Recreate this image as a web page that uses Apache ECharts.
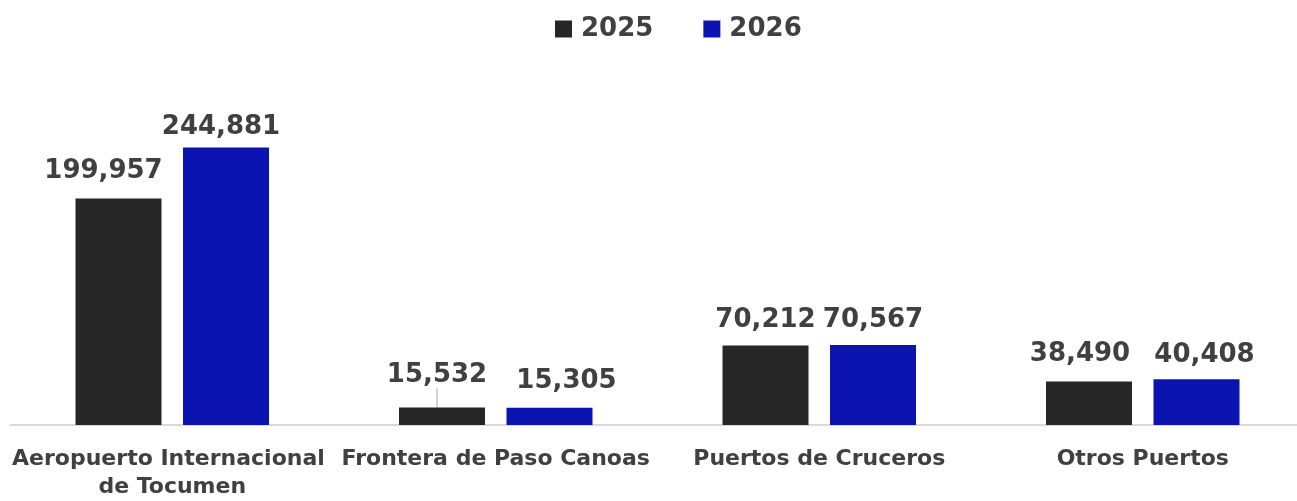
<!DOCTYPE html>
<html><head><meta charset="utf-8">
<script src="https://cdn.jsdelivr.net/npm/echarts@6/dist/echarts.min.js"></script>
<style>html,body{margin:0;padding:0;background:#fff;overflow:hidden}#c{width:1310px;height:501px}</style>
</head><body><div id="c"></div>
<script>
const categories = ["Aeropuerto Internacional de Tocumen", "Frontera de Paso Canoas", "Puertos de Cruceros", "Otros Puertos"];
const seriesNames = ["2025", "2026"];
const values2025 = [199957, 15532, 70212, 38490];
const values2026 = [244881, 15305, 70567, 40408];

const FONT = "DejaVu Sans";
const TXT = "#404040";
const fmt = v => v.toLocaleString('en-US');

// label nudges (style only)
const nudge25 = [[-15, -2], [-5, -7], [0, 0], [-9, -2]];
const nudge26 = [[-5, 5], [17, -1], [0, 0], [8, 1]];

const chart = echarts.init(document.getElementById('c'), null, { renderer: 'canvas' });
chart.setOption({
  animation: false,
  legend: {
    top: 16, left: 555, padding: 0,
    itemWidth: 17, itemHeight: 17, itemGap: 50,
    icon: 'rect',
    textStyle: { fontFamily: FONT, fontWeight: 'bold', fontSize: 26, color: TXT, padding: [0, 0, 0, 4] },
    data: seriesNames
  },
  grid: { left: 10.5, width: 1294, top: 85, height: 343, containLabel: false },
  xAxis: {
    type: 'category', data: categories,
    axisLine: { lineStyle: { color: '#d9d9d9', width: 2 } },
    axisTick: { show: false },
    axisLabel: {
      interval: 0, margin: 20, width: 323, overflow: 'break',
      fontFamily: FONT, fontWeight: 'bold', fontSize: 22, color: TXT, lineHeight: 28
    }
  },
  yAxis: { type: 'value', min: 0, max: 300000, show: false, splitLine: { show: false } },
  series: [
    {
      name: seriesNames[0], type: 'bar', barWidth: 86, barGap: '25%',
      itemStyle: { color: '#262626' },
      label: { show: true, position: 'top', distance: 12, formatter: p => fmt(p.value),
        fontFamily: FONT, fontWeight: 'bold', fontSize: 26, color: TXT },
      labelLine: { show: false, lineStyle: { color: '#a6a6a6', width: 1 } },
      labelLayout: p => ({ dx: nudge25[p.dataIndex][0], dy: nudge25[p.dataIndex][1] }),
      data: values2025.map((v, i) => ({ value: v, labelLine: { show: i === 1 } }))
    },
    {
      name: seriesNames[1], type: 'bar', barWidth: 86,
      itemStyle: { color: '#0b13b0' },
      label: { show: true, position: 'top', distance: 12, formatter: p => fmt(p.value),
        fontFamily: FONT, fontWeight: 'bold', fontSize: 26, color: TXT },
      labelLayout: p => ({ dx: nudge26[p.dataIndex][0], dy: nudge26[p.dataIndex][1] }),
      data: values2026
    }
  ]
});
</script></body></html>
